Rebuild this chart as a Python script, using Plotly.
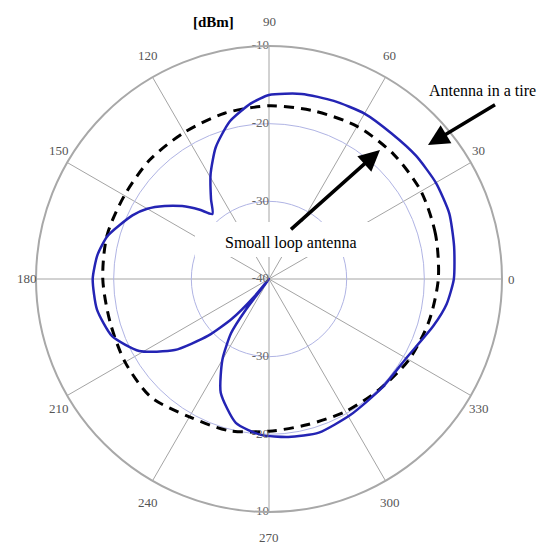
import math
import plotly.graph_objects as go

# ---- data ----
tire_theta = [0, 10, 20, 30, 40, 50, 60, 70, 80, 90, 96, 104, 112, 119, 126, 131, 135, 140, 145,
              150, 155, 165, 172, 180, 190, 200, 209, 217, 223, 227, 230, 231.5, 233, 235, 240,
              247, 257, 267, 277, 288, 301, 316, 330, 344, 352, 360]
tire_dbm = [-16.2, -15.8, -15.3, -15.2, -15.3, -15.5, -15.4, -15.6, -15.8, -16.3, -17.3, -19.1,
            -21.7, -24.5, -27.3, -28.9, -27.4, -25.4, -23.6, -21.9, -20.6, -18.5, -17.7, -17.3,
            -17.5, -18.5, -20.9, -24.8, -29.3, -33.0, -37.0, -40.0, -35.0, -31.5, -28.0, -24.1,
            -21.0, -19.9, -19.5, -19.2, -19.6, -19.8, -19.6, -18.0, -16.9, -16.2]

loop_theta = [0, 15, 30, 45, 60, 75, 90, 105, 120, 135, 150, 165, 180, 195, 210, 225, 240,
              255, 270, 285, 300, 315, 330, 345, 360]
loop_dbm = [-18.2, -17.8, -17.4, -17.3, -17.3, -17.6, -17.7, -17.9, -18.2, -18.3, -18.5, -18.4,
            -18.6, -18.8, -18.6, -18.5, -19.5, -19.8, -20.4, -20.6, -20.3, -19.9, -19.2, -18.7, -18.2]

angle_ticks = list(range(0, 360, 30))
angle_labels = [str(a) for a in angle_ticks]
radial_ticks = [-40, -30, -20, -10]
radial_range = [-40, -10]

serif = "Liberation Serif, Times New Roman, serif"
W, H = 556, 546
OFF = 8  # page body margin
CX, CY, RAD = 269, 279, 233  # polar centre / radius in page pixels


def px(x):
    return (x - OFF) / W


def py(y):
    return 1 - (y - OFF) / H


fig = go.Figure()

fig.add_trace(go.Scatterpolar(
    r=loop_dbm, theta=loop_theta, mode="lines",
    line=dict(color="black", width=3, dash="10px,7px", shape="spline", smoothing=0.8),
    hoverinfo="skip", showlegend=False))

fig.add_trace(go.Scatterpolar(
    r=tire_dbm, theta=tire_theta, mode="lines",
    line=dict(color="#2424b4", width=2.5, shape="spline", smoothing=0.6),
    hoverinfo="skip", showlegend=False))

# radial tick labels along the 90 and 270 spokes
lab_r = radial_ticks[1:] + radial_ticks[1:] + radial_ticks[:1]
lab_t = [90] * 3 + [270] * 3 + [180]
fig.add_trace(go.Scatterpolar(
    r=lab_r, theta=lab_t, mode="text",
    text=[str(v) for v in lab_r], textposition="middle left",
    textfont=dict(family=serif, size=13, color="#666"),
    cliponaxis=False, hoverinfo="skip", showlegend=False))

# angular tick labels placed outside the outer ring
ann = []
for a, lab in zip(angle_ticks, angle_labels):
    t = math.radians(a)
    ann.append(dict(text=lab, x=px(CX + 242 * math.cos(t)), y=py(CY - 258 * math.sin(t)),
                    xref="paper", yref="paper", xanchor="center", yanchor="middle",
                    showarrow=False, font=dict(family=serif, size=13, color="#555")))

ann += [
    dict(text="<b>[dBm]</b>", x=px(214), y=py(22), xref="paper", yref="paper",
         xanchor="center", yanchor="middle",
         showarrow=False, font=dict(family=serif, size=15, color="black")),
    dict(text="Antenna in a tire", x=px(427), y=py(90), xref="paper", yref="paper",
         xanchor="left", yanchor="middle",
         showarrow=False, font=dict(family=serif, size=16, color="black")),
    dict(text="Smoall loop antenna", x=px(291), y=py(243), xref="paper", yref="paper",
         xanchor="center", yanchor="middle",
         showarrow=False, font=dict(family=serif, size=16, color="black")),
    dict(text=" ", x=px(428), y=py(145), xref="paper", yref="paper",
         ax=70, ay=-42, showarrow=True, arrowhead=2, arrowsize=1.2, arrowwidth=3.5,
         arrowcolor="black", standoff=0),
    dict(text=" ", x=px(380), y=py(150), xref="paper", yref="paper",
         ax=-92, ay=82, showarrow=True, arrowhead=2, arrowsize=1.2, arrowwidth=3.5,
         arrowcolor="black", standoff=0),
]

fig.update_layout(
    width=W, height=H,
    margin=dict(l=0, r=0, t=0, b=0),
    paper_bgcolor="white",
    showlegend=False,
    polar=dict(
        domain=dict(x=[px(CX - RAD), px(CX + RAD)], y=[py(CY + RAD), py(CY - RAD)]),
        bgcolor="white",
        radialaxis=dict(range=radial_range, tickvals=radial_ticks[1:3], showticklabels=False,
                        ticks="", gridcolor="#b0b4e4", gridwidth=1.2, showline=False, angle=90),
        angularaxis=dict(rotation=0, direction="counterclockwise",
                         tickvals=angle_ticks, showticklabels=False, ticks="",
                         gridcolor="#a4a4a4", gridwidth=1.3,
                         showline=True, linecolor="#a8a8a8", linewidth=2),
    ),
    shapes=[dict(type="rect", xref="paper", yref="paper",
                 x0=px(195), x1=px(385), y0=py(257), y1=py(222),
                 fillcolor="white", line=dict(width=0), layer="above")],
    annotations=ann,
)

fig.write_html("out.html")
